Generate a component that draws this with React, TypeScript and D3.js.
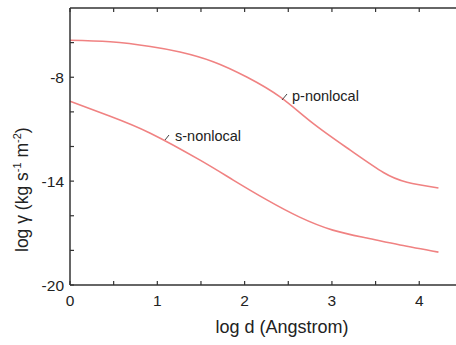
import React from "react";
import * as d3 from "d3";

const pLogD = [0, 0.46, 0.92, 1.26, 1.64, 2.03, 2.41, 2.78, 3.21, 3.59, 3.86, 4.22];
const pVals = [-5.86, -5.95, -6.22, -6.54, -7.1, -8.0, -9.15, -10.65, -12.21, -13.5, -14.06, -14.4];
const sLogD = [0, 0.46, 0.92, 1.49, 1.87, 2.26, 2.63, 3.01, 3.4, 3.78, 4.22];
const sVals = [-9.38, -10.25, -11.23, -12.79, -13.94, -15.1, -16.08, -16.83, -17.29, -17.69, -18.1];
const xTickLabels = [0, 1, 2, 3, 4];
const xMinorTicks = [0, 0.5, 1, 1.5, 2, 2.5, 3, 3.5, 4, 4.5];
const yTickLabels = [-20, -14, -8];
const yMinorTicks = [-20, -18, -16, -14, -12, -10, -8, -6];

const W = 456, H = 345;
const FONT = "'Liberation Sans', Arial, Helvetica, sans-serif";
const AX = "#333";
const LINE = "#f08282";

export default function App() {
  const x = d3.scaleLinear().domain([0, 4.5]).range([70, 462.9]);
  const y = d3.scaleLinear().domain([-20, -4]).range([285, 8]);
  const line = d3
    .line<[number, number]>()
    .x((d) => x(d[0]))
    .y((d) => y(d[1]))
    .curve(d3.curveNatural);
  const pData = pLogD.map((v, i) => [v, pVals[i]] as [number, number]);
  const sData = sLogD.map((v, i) => [v, sVals[i]] as [number, number]);
  const x0 = x(0);
  const yTop = y(-4);
  const yBot = y(-20);

  return (
    <svg width={W} height={H} style={{ position: "absolute", left: 0, top: 0, background: "#fff" }} fontFamily={FONT}>
      <rect x={0} y={0} width={W} height={H} fill="#fff" />
      <path d={line(pData) || ""} fill="none" stroke={LINE} strokeWidth={1.6} />
      <path d={line(sData) || ""} fill="none" stroke={LINE} strokeWidth={1.6} />
      {/* axes */}
      <line x1={x0} x2={W} y1={yBot} y2={yBot} stroke={AX} strokeWidth={1.5} />
      <line x1={x0} x2={W} y1={yTop} y2={yTop} stroke={AX} strokeWidth={1.5} />
      <line x1={x0} x2={x0} y1={yTop} y2={yBot} stroke={AX} strokeWidth={1.5} />
      {xMinorTicks.map((t) => (
        <g key={"xt" + t}>
          <line x1={x(t)} x2={x(t)} y1={yBot} y2={yBot - 4} stroke={AX} strokeWidth={1.2} />
          <line x1={x(t)} x2={x(t)} y1={yTop} y2={yTop + 4} stroke={AX} strokeWidth={1.2} />
        </g>
      ))}
      {yMinorTicks.map((t) => (
        <line key={"yt" + t} x1={x0} x2={x0 + 4} y1={y(t)} y2={y(t)} stroke={AX} strokeWidth={1.2} />
      ))}
      {xTickLabels.map((t) => (
        <text key={"xl" + t} x={x(t)} y={306} textAnchor="middle" fontSize={15.5} fill="#222">
          {t}
        </text>
      ))}
      {yTickLabels.map((t) => (
        <text key={"yl" + t} x={64} y={y(t) + 5.5} textAnchor="end" fontSize={15.5} fill="#222">
          {t}
        </text>
      ))}
      <text x={282} y={333} textAnchor="middle" fontSize={18} fill="#222">
        log d (Angstrom)
      </text>
      <text transform="translate(28,252) rotate(-90)" textAnchor="start" fontSize={17.5} fill="#222">
        log γ (kg s<tspan fontSize={11} dy={-7}>-1</tspan>
        <tspan dy={7}> m</tspan>
        <tspan fontSize={11} dy={-7}>-2</tspan>
        <tspan dy={7}>)</tspan>
      </text>
      {/* annotations */}
      <line x1={282} y1={100} x2={287} y2={94} stroke="#444" strokeWidth={1} />
      <text x={292} y={101} fontSize={14.5} fill="#222">p-nonlocal</text>
      <line x1={165} y1={140} x2={169} y2={135} stroke="#444" strokeWidth={1} />
      <text x={175} y={141} fontSize={14.5} fill="#222">s-nonlocal</text>
    </svg>
  );
}
